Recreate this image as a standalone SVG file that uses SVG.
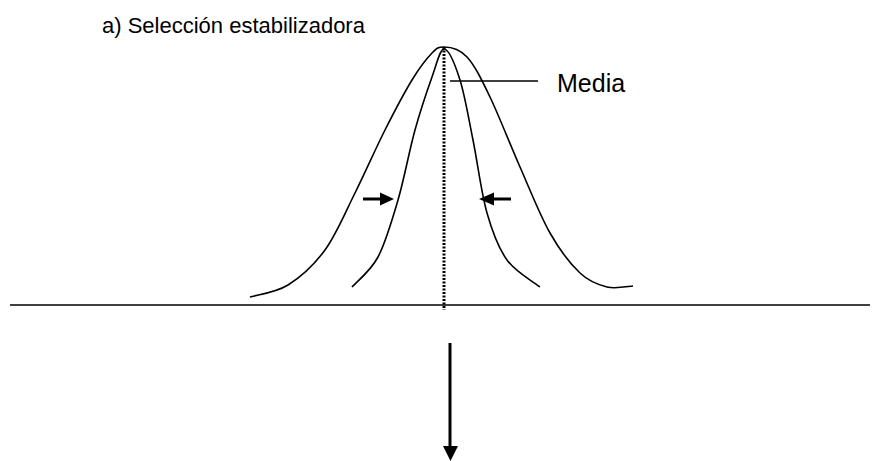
<svg xmlns="http://www.w3.org/2000/svg" width="880" height="461" viewBox="0 0 880 461">
<defs>
<style>
.t{font-family:"Liberation Sans",Arial,sans-serif;fill:#000}
.c{fill:none;stroke:#000;stroke-width:1.6;stroke-linejoin:round}
.l{stroke:#000;fill:none}
.h{fill:#000}
</style>
</defs>
<rect width="880" height="461" fill="#fff"/>
<g id="title"><text class="t" x="102" y="33" font-size="22">a) Selección estabilizadora</text></g>
<g id="baseline"><line class="l" x1="10" y1="305" x2="870" y2="305" stroke-width="1.6"/></g>
<g id="wide-curve"><path class="c" d="M250,297 C256.3,295 275.5,292.8 288,285 C300.5,277.2 313.8,265.3 325,250 C336.2,234.7 345,213 355,193 C365,173 375.5,148.8 385,130 C394.5,111.2 404.2,92.8 412,80 C419.8,67.2 426.7,58.5 432,53 C437.3,47.5 438,47 444,47 C452,47 459.3,48.7 467,57 C474.7,65.3 481.2,78.7 490,97 C498.8,115.3 510,144.3 520,167 C530,189.7 540,215.3 550,233 C560,250.7 570.5,264 580,273 C589.5,282 598.2,284.8 607,287 C615.8,289.2 628.7,286.2 633,286"/></g>
<g id="narrow-curve"><path class="c" d="M352,287 C356.3,282 370.3,271.5 378,257 C385.7,242.5 391.8,221.2 398,200 C404.2,178.8 409.3,150.5 415,130 C420.7,109.5 427.2,90.5 432,77 C436.8,63.5 440,49 444,49 C449,49 455.2,64.8 460,80 C464.8,95.2 468.5,117.8 473,140 C477.5,162.2 481.3,193 487,213 C492.7,233 498.2,247.7 507,260 C515.8,272.3 534.5,282.5 540,287"/></g>
<g id="mean-line"><line class="l" x1="444" y1="47" x2="444" y2="310" stroke-width="3" stroke-dasharray="2,1.5"/></g>
<g id="media-label"><line class="l" x1="450" y1="81" x2="538" y2="81" stroke-width="1.3"/><text class="t" x="557" y="92" font-size="25">Media</text></g>
<g id="connectors">
<line class="l" x1="363" y1="199" x2="382" y2="199" stroke-width="3"/>
<path class="h" d="M380,192.5 L394,199 L380,205.5 Z"/>
<line class="l" x1="511" y1="199" x2="492" y2="199" stroke-width="3"/>
<path class="h" d="M494,192.5 L479,199 L494,205.5 Z"/>
<path class="l" d="M450,343 L450,448" stroke-width="3"/>
<path class="h" d="M443,446 L458,446 L450.5,461 Z"/>
</g>
</svg>
